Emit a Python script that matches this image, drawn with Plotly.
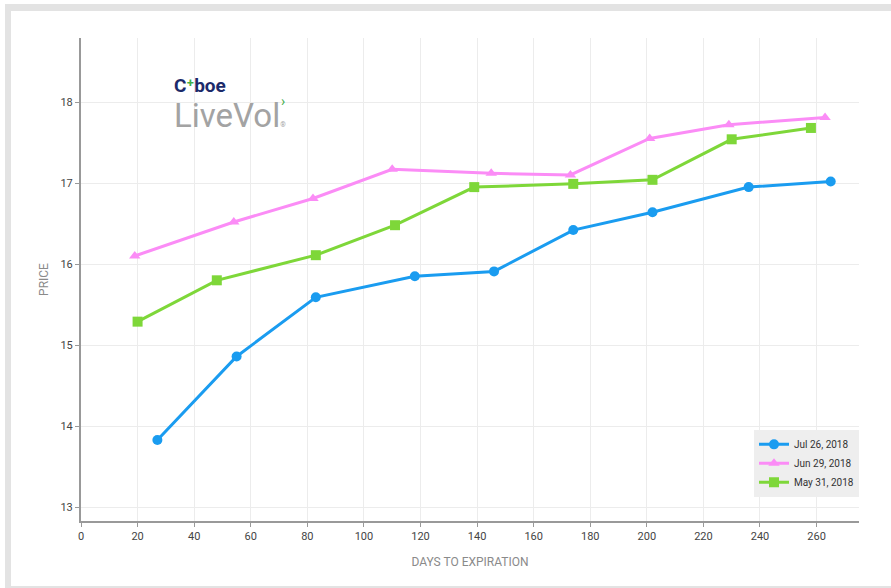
import plotly.graph_objects as go

jul_days = [27, 55, 83, 118, 146, 174, 202, 236, 265]
jul_price = [13.83, 14.86, 15.59, 15.85, 15.91, 16.42, 16.64, 16.95, 17.02]

jun_days = [19, 54, 82, 110, 145, 173, 201, 229, 263]
jun_price = [16.10, 16.52, 16.81, 17.17, 17.12, 17.10, 17.55, 17.72, 17.81]

may_days = [20, 48, 83, 111, 139, 174, 202, 230, 258]
may_price = [15.29, 15.80, 16.11, 16.48, 16.95, 16.99, 17.04, 17.54, 17.68]

W, H = 891, 588
L, R, T, B = 81, 32, 38, 67
PW, PH = W - L - R, H - T - B

def px(x):
    return (x - L) / PW

def py(y):
    return (H - B - y) / PH

fig = go.Figure()
fig.add_trace(go.Scatter(x=jul_days, y=jul_price, name="Jul 26, 2018", mode="lines+markers",
                         line=dict(color="#1a9cf0", width=3),
                         marker=dict(symbol="circle", size=10, color="#1a9cf0")))
fig.add_trace(go.Scatter(x=jun_days, y=jun_price, name="Jun 29, 2018", mode="lines+markers",
                         line=dict(color="#fb8cf6", width=3),
                         marker=dict(symbol="triangle-up", size=10, color="#fb8cf6")))
fig.add_trace(go.Scatter(x=may_days, y=may_price, name="May 31, 2018", mode="lines+markers",
                         line=dict(color="#7ed739", width=3),
                         marker=dict(symbol="square", size=10, color="#7ed739")))

shapes = [
    dict(type="rect", xref="paper", yref="paper", layer="below",
         x0=px(5), x1=px(960), y0=py(4), y1=py(640),
         fillcolor="#e3e3e3", line=dict(width=0)),
    dict(type="rect", xref="paper", yref="paper", layer="below",
         x0=px(11), x1=px(960), y0=py(11), y1=py(586),
         fillcolor="#ffffff", line=dict(width=0)),
]

logo = ("<span style='font-size:19px;color:#1c2a6a'><b>C<span style='color:#3fae49'>⁺</span>boe</b></span>"
        "<br><span style='font-size:33px;color:#a3a3a3'>LiveVol<span style='font-size:7px'>®</span></span>")

annotations = [
    dict(xref="paper", yref="paper", x=px(172), y=py(72), xanchor="left", yanchor="top",
         align="left", text=logo, showarrow=False,
         font=dict(family="Roboto", size=27, color="#a3a3a3")),
    dict(xref="paper", yref="paper", x=px(283), y=py(101), xanchor="center", yanchor="middle",
         text="›", showarrow=False,
         font=dict(family="Roboto", size=14, color="#3fae49")),
]

fig.update_layout(
    width=W, height=H,
    margin=dict(l=L, r=R, t=T, b=B),
    paper_bgcolor="#ffffff", plot_bgcolor="#ffffff",
    font=dict(family="Roboto", size=11, color="#444444"),
    shapes=shapes, annotations=annotations,
    showlegend=True,
    legend=dict(x=1, y=0.05, xanchor="right", yanchor="bottom",
                bgcolor="#eeeeee", font=dict(family="Roboto", size=10, color="#333333"),
                borderwidth=0, itemwidth=30, tracegroupgap=0),
    xaxis=dict(range=[0, 275], tick0=0, dtick=20, showgrid=True, gridcolor="#ececec", gridwidth=1,
               showline=True, linecolor="#999999", linewidth=2, ticks="outside", ticklen=4,
               tickcolor="#999999", zeroline=False,
               title=dict(text="DAYS TO EXPIRATION", font=dict(size=12, color="#8a8a8a"), standoff=15)),
    yaxis=dict(range=[12.83, 18.79], tick0=13, dtick=1, showgrid=True, gridcolor="#ececec", gridwidth=1,
               showline=True, linecolor="#999999", linewidth=2, ticks="outside", ticklen=4,
               tickcolor="#999999", zeroline=False,
               title=dict(text="PRICE", font=dict(size=12, color="#8a8a8a"), standoff=9)),
)

fig.write_html("out.html")
